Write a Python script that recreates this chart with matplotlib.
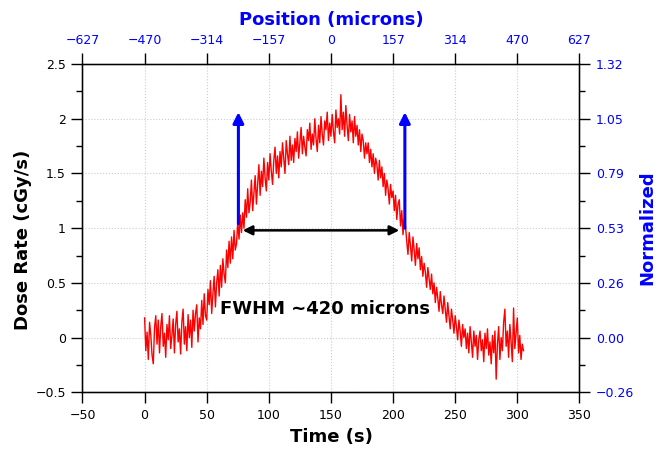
import numpy as np
import matplotlib
matplotlib.use("Agg")
import matplotlib.pyplot as plt
from matplotlib.ticker import MultipleLocator

# ---- data ----
time_s = list(range(0, 306))
dose_rate = [
    0.18, -0.12, 0.05, -0.20, 0.14, 0.02, -0.16, -0.24, 0.09, 0.20,
    -0.06, 0.16, -0.14, 0.10, 0.22, -0.08, 0.04, -0.18, 0.12, -0.02,
    0.20, -0.10, 0.02, 0.17, -0.14, 0.12, 0.24, -0.04, 0.08, -0.15,
    0.14, 0.26, -0.06, 0.10, -0.12, 0.21, 0.00, 0.16, -0.09, 0.25,
    0.06, 0.22, 0.30, -0.04, 0.18, 0.08, 0.34, 0.12, 0.40, 0.20,
    0.16, 0.44, 0.30, 0.52, 0.22, 0.40, 0.56, 0.28, 0.50, 0.62,
    0.38, 0.66, 0.46, 0.72, 0.58, 0.50, 0.80, 0.64, 0.88, 0.68,
    0.92, 0.72, 0.98, 0.80, 0.86, 1.06, 0.90, 1.12, 0.96, 1.14,
    1.00, 1.26, 1.10, 1.36, 1.14, 1.24, 1.44, 1.16, 1.32, 1.48,
    1.22, 1.40, 1.58, 1.30, 1.52, 1.38, 1.64, 1.46, 1.34, 1.60,
    1.44, 1.68, 1.52, 1.40, 1.62, 1.74, 1.50, 1.66, 1.46, 1.70,
    1.56, 1.78, 1.64, 1.50, 1.80, 1.68, 1.58, 1.84, 1.62, 1.76,
    1.60, 1.82, 1.70, 1.88, 1.64, 1.78, 1.92, 1.68, 1.84, 1.74,
    1.66, 1.90, 1.80, 1.96, 1.72, 1.86, 1.76, 2.00, 1.82, 1.70,
    1.94, 1.78, 2.02, 1.86, 1.76, 1.98, 1.90, 2.06, 1.80, 1.96,
    1.84, 2.04, 1.88, 1.78, 2.08, 1.92, 2.00, 1.86, 2.22, 1.90,
    2.06, 1.84, 2.12, 1.94, 1.80, 2.04, 1.88, 1.98, 1.78, 2.02,
    1.84, 1.94, 1.76, 1.90, 1.70, 1.86, 1.80, 1.64, 1.78, 1.68,
    1.78, 1.60, 1.72, 1.56, 1.68, 1.50, 1.64, 1.58, 1.44, 1.62,
    1.46, 1.56, 1.38, 1.50, 1.30, 1.44, 1.36, 1.22, 1.40, 1.28,
    1.34, 1.16, 1.30, 1.08, 1.22, 1.26, 1.02, 1.16, 0.94, 1.08,
    1.02, 0.88, 0.76, 0.96, 0.84, 0.70, 0.92, 0.80, 0.66, 0.86,
    0.72, 0.82, 0.62, 0.74, 0.56, 0.68, 0.60, 0.46, 0.64, 0.54,
    0.44, 0.58, 0.40, 0.50, 0.32, 0.46, 0.36, 0.24, 0.42, 0.30,
    0.22, 0.38, 0.26, 0.14, 0.32, 0.20, 0.08, 0.26, 0.16, 0.04,
    0.20, 0.10, -0.02, 0.16, 0.06, -0.08, 0.12, 0.00, 0.08, -0.10,
    0.04, -0.14, 0.10, -0.04, -0.18, 0.06, -0.08, 0.02, -0.20, -0.02,
    0.06, -0.12, -0.02, -0.22, 0.04, -0.10, 0.08, -0.16, -0.04, -0.24,
    0.02, -0.14, 0.06, -0.38, -0.06, 0.10, -0.20, 0.00, -0.12, 0.14,
    0.26, -0.08, 0.06, -0.18, 0.12, -0.04, -0.22, 0.27, -0.10, 0.04,
    0.18, -0.14, 0.02, -0.20, -0.06, -0.12,
]

time_ticks = [-50, 0, 50, 100, 150, 200, 250, 300, 350]
dose_ticks = [-0.5, 0, 0.5, 1, 1.5, 2, 2.5]
dose_tick_labels = ["\u22120.5", "0", "0.5", "1", "1.5", "2", "2.5"]
position_ticks = [-627, -470, -314, -157, 0, 157, 314, 470, 627]
norm_factor = 1.9  # dose rate that corresponds to Normalized = 1

fwhm_left_t, fwhm_right_t, fwhm_level = 79, 205, 0.98
marker_left = (75.5, 1.04, 2.06)
marker_right = (209.5, 1.00, 2.06)
fwhm_text = "FWHM ~420 microns"

# ---- figure ----
fig = plt.figure(figsize=(6.7, 4.55), dpi=100)
ax = fig.add_axes([0.1231, 0.1378, 0.8648 - 0.1231, 0.8593 - 0.1378])

ax.plot(time_s, dose_rate, color="red", lw=1.0, zorder=3)

ax.set_xlim(-50, 350)
ax.set_ylim(-0.5, 2.5)
ax.set_xticks(time_ticks)
ax.set_yticks(dose_ticks)
ax.yaxis.set_minor_locator(MultipleLocator(0.25))
ax.set_yticklabels(dose_tick_labels)
ax.grid(True, which="major", color="#cccccc", ls=":", lw=0.8)
ax.tick_params(axis="both", which="major", direction="out", length=8, width=1,
               labelsize=9, pad=4)
ax.tick_params(axis="y", which="minor", direction="out", length=4, width=1)
for s in ax.spines.values():
    s.set_linewidth(1.0)

ax.set_xlabel("Time (s)", fontsize=13, fontweight="bold", labelpad=4)
ax.set_ylabel("Dose Rate (cGy/s)", fontsize=13, fontweight="bold")
ax.yaxis.set_label_coords(-0.1016, 0.464)

# top axis: position
axt = ax.twiny()
axt.set_xlim(-627, 627)
axt.set_xticks(position_ticks)
axt.set_xticklabels([str(v).replace("-", "\u2212") for v in position_ticks])
axt.tick_params(axis="x", direction="out", length=8, width=1, labelsize=9,
                labelcolor="blue", color="black", pad=4)
axt.set_xlabel("Position (microns)", fontsize=13, fontweight="bold",
               color="blue", labelpad=7)

# right axis: normalized
axr = ax.twinx()
axr.set_ylim(-0.5 / norm_factor, 2.5 / norm_factor)
rticks = [v / norm_factor for v in dose_ticks]
axr.set_yticks(rticks)
axr.set_yticklabels([f"{v:.2f}".replace("-", "\u2212") for v in rticks])
axr.yaxis.set_minor_locator(MultipleLocator(0.25 / norm_factor))
axr.tick_params(axis="y", which="major", direction="out", length=8, width=1,
                labelsize=9, labelcolor="blue", pad=4)
axr.tick_params(axis="y", which="minor", direction="out", length=4, width=1)
axr.set_ylabel("Normalized", fontsize=13, fontweight="bold", color="blue",
               labelpad=3)

# annotations
for (t, y0, y1) in (marker_left, marker_right):
    ax.annotate("", xy=(t, y1), xytext=(t, y0),
                arrowprops=dict(arrowstyle="-|>", color="blue", lw=2.2,
                                mutation_scale=16, shrinkA=0, shrinkB=0),
                zorder=4)
ax.annotate("", xy=(fwhm_left_t, fwhm_level), xytext=(fwhm_right_t, fwhm_level),
            arrowprops=dict(arrowstyle="<|-|>", color="black", lw=1.8,
                            mutation_scale=14, shrinkA=0, shrinkB=0),
            zorder=4)
ax.text(145.5, 0.26, fwhm_text, fontsize=13, fontweight="bold",
        ha="center", va="center", zorder=5)

fig.savefig("out.png", dpi=100)
